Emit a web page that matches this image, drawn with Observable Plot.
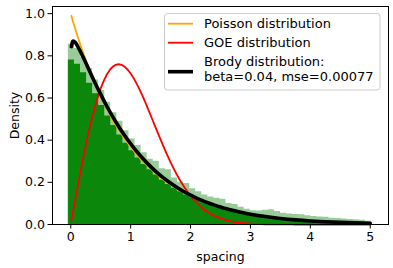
<!DOCTYPE html>
<html><head><meta charset="utf-8">
<script src="https://cdn.jsdelivr.net/npm/d3@7"></script>
<script src="https://cdn.jsdelivr.net/npm/@observablehq/plot@0.6"></script>
<style>body{margin:0;background:#fff} svg{display:block}</style>
</head><body><div id="chart"></div>
<script>
// histogram (density), bins start at binStart with width binWidth
const binStart = -0.04, binWidth = 0.1012;
const histLight = [0.855,0.835,0.795,0.74,0.685,0.635,0.58,0.53,0.49,0.445,
  0.405,0.375,0.34,0.31,0.30,0.265,0.26,0.22,0.20,0.195,
  0.17,0.155,0.14,0.13,0.125,0.12,0.10,0.095,0.082,0.072,
  0.065,0.064,0.068,0.07,0.062,0.053,0.05,0.048,0.046,0.042,
  0.038,0.036,0.034,0.03,0.028,0.026,0.024,0.022,0.02,0.016];
const histSolid = [0.78,0.76,0.72,0.67,0.62,0.565,0.515,0.47,0.425,0.385,
  0.35,0.315,0.285,0.26,0.235,0.21,0.19,0.172,0.155,0.14,
  0.127,0.114,0.103,0.093,0.084,0.076,0.069,0.062,0.056,0.051,
  0.046,0.042,0.038,0.034,0.031,0.028,0.025,0.023,0.021,0.019,
  0.017,0.015,0.014,0.012,0.011,0.010,0.009,0.008,0.007,0.006];
// curves
const sGrid = [0.01,0.03,0.05,0.07,0.1,0.2,0.3,0.4,0.5,0.6,0.7,0.8,0.9,1.0,1.1,1.2,1.3,1.4,1.5,1.6,1.7,1.8,1.9,2.0,
  2.1,2.2,2.3,2.4,2.5,2.6,2.7,2.8,2.9,3.0,3.25,3.5,3.75,4.0,4.25,4.5,4.75,5.0];
const poisson = [0.990,0.970,0.951,0.932,0.905,0.819,0.741,0.670,0.607,0.549,0.497,0.449,0.407,0.368,0.333,0.301,0.273,0.247,0.223,0.202,0.183,0.165,0.150,0.135,
  0.122,0.111,0.100,0.0907,0.0821,0.0743,0.0672,0.0608,0.0550,0.0498,0.0388,0.0302,0.0235,0.0183,0.0143,0.0111,0.0087,0.0067];
const goe = [0.0157,0.0471,0.0784,0.1095,0.1558,0.3045,0.4391,0.5541,0.6454,0.7104,0.7483,0.7600,0.7484,0.7161,0.6682,0.6084,0.5416,0.4717,0.4025,0.3365,0.2759,0.2220,0.1752,0.1358,
  0.1033,0.0772,0.0567,0.0409,0.0290,0.0202,0.0138,0.0093,0.0062,0.0040,0.0013,0.0004,0.0001,0,0,0,0,0];
const brody = [0.844,0.867,0.869,0.865,0.853,0.798,0.736,0.675,0.617,0.562,0.512,0.465,0.422,0.383,0.347,0.314,0.284,0.257,0.232,0.210,0.190,0.171,0.154,0.139,
  0.1253,0.1130,0.1019,0.0919,0.0828,0.0746,0.0673,0.0606,0.0546,0.049,0.0376,0.0288,0.0221,0.0169,0.0129,0.0099,0.0076,0.0058];
const xTicks = [0,1,2,3,4,5];
const yTicks = [0,0.2,0.4,0.6,0.8,1.0];
const legendLabels = ["Poisson distribution","GOE distribution","Brody distribution:","beta=0.04, mse=0.00077"];
const legendColors = ["orange","red","black"];

const steps = histLight.map((v,i)=>({x: binStart+i*binWidth, light: v, solid: histSolid[i]}));
steps.push({x: binStart+histLight.length*binWidth, light: histLight[histLight.length-1], solid: histSolid[histSolid.length-1]});
const curves = sGrid.map((s,i)=>({s, poisson: poisson[i], goe: goe[i], brody: brody[i]}));

const FS = "12.5px";
const plot = Plot.plot({
  width: 393, height: 268,
  marginLeft: 52, marginRight: 5, marginTop: 6, marginBottom: 44,
  style: {fontFamily: "DejaVu Sans", fontSize: FS, color: "black", background: "white", overflow: "visible"},
  x: {domain: [-0.305, 5.305]},
  y: {domain: [0, 1.034]},
  marks: [
    Plot.areaY(steps, {x:"x", y:"light", curve:"step-after", fill:"green", fillOpacity:0.4}),
    Plot.areaY(steps, {x:"x", y:"solid", curve:"step-after", fill:"#0b870b"}),
    Plot.line(curves, {x:"s", y:"poisson", stroke:"orange", strokeWidth:1.8, curve:"natural"}),
    Plot.line(curves, {x:"s", y:"goe", stroke:"red", strokeWidth:1.8, curve:"natural"}),
    Plot.line(curves, {x:"s", y:"brody", stroke:"black", strokeWidth:3.6, curve:"natural"}),
    Plot.frame({stroke:"black", strokeWidth:1}),
    Plot.axisX({ticks: xTicks, tickFormat: d3.format("d"), tickSize: 4.5, tickPadding: 3, label: "spacing", labelAnchor: "center", labelArrow: "none", labelOffset: 36}),
    Plot.axisY({ticks: yTicks, tickFormat: d3.format(".1f"), tickSize: 4.5, tickPadding: 3, label: "Density", labelAnchor: "center", labelArrow: "none", labelOffset: 42})
  ]
});
document.getElementById("chart").appendChild(plot);

// legend
const svg = d3.select(plot);
const g = svg.append("g").attr("font-family","DejaVu Sans").attr("font-size","13px").attr("text-anchor","start");
g.append("rect").attr("x",164.5).attr("y",13.5).attr("width",215.5).attr("height",76.5).attr("rx",3)
  .attr("fill","white").attr("fill-opacity",0.8).attr("stroke","#cccccc");
const lineY = [23.7, 42.7, 71.7];
const lineW = [1.8, 1.8, 3.6];
legendColors.forEach((c,i)=>{
  g.append("line").attr("x1",168).attr("x2",193).attr("y1",lineY[i]).attr("y2",lineY[i]).attr("stroke",c).attr("stroke-width",lineW[i]);
});
const textY = [28.3, 47.3, 66, 81];
legendLabels.forEach((t,i)=>{
  g.append("text").attr("x",204).attr("y",textY[i]).attr("fill","black").attr("text-anchor","start").text(t);
});
</script></body></html>
